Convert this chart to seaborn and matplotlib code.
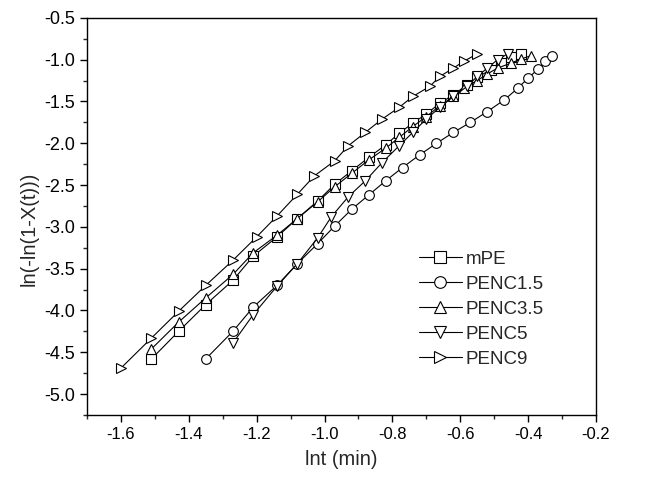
import numpy as np
import pandas as pd
import matplotlib
matplotlib.use("Agg")
import matplotlib.pyplot as plt
from matplotlib.ticker import MultipleLocator
import seaborn as sns

# Avrami plot data: x = ln t (min), y = ln(-ln(1-X(t)))
mpe_x = [-1.51, -1.43, -1.35, -1.27, -1.21, -1.14, -1.08, -1.02, -0.97, -0.92, -0.87, -0.82,
         -0.78, -0.74, -0.70, -0.66, -0.62, -0.58, -0.55, -0.51, -0.48, -0.45, -0.42]
mpe_y = [-4.58, -4.25, -3.93, -3.64, -3.35, -3.12, -2.90, -2.69, -2.49, -2.33, -2.17, -2.02,
         -1.88, -1.76, -1.65, -1.52, -1.42, -1.30, -1.21, -1.12, -1.04, -0.97, -0.93]

penc15_x = [-1.35, -1.27, -1.21, -1.14, -1.08, -1.02, -0.97, -0.92, -0.87, -0.82, -0.77,
            -0.72, -0.67, -0.62, -0.57, -0.52, -0.47, -0.43, -0.40, -0.37, -0.35, -0.33]
penc15_y = [-4.58, -4.25, -3.96, -3.70, -3.44, -3.20, -2.99, -2.79, -2.62, -2.45, -2.29,
            -2.14, -2.00, -1.87, -1.75, -1.62, -1.48, -1.34, -1.22, -1.11, -1.02, -0.95]

penc35_x = [-1.51, -1.43, -1.35, -1.27, -1.21, -1.14, -1.08, -1.02, -0.97, -0.92, -0.87, -0.82,
            -0.78, -0.74, -0.70, -0.66, -0.62, -0.59, -0.55, -0.52, -0.49, -0.45, -0.42, -0.39]
penc35_y = [-4.46, -4.14, -3.85, -3.57, -3.31, -3.10, -2.90, -2.70, -2.52, -2.36, -2.20, -2.06,
            -1.93, -1.80, -1.68, -1.55, -1.44, -1.34, -1.25, -1.17, -1.10, -1.04, -0.99, -0.95]

penc5_x = [-1.27, -1.21, -1.14, -1.08, -1.02, -0.98, -0.93, -0.88, -0.83, -0.78, -0.74,
           -0.70, -0.66, -0.62, -0.58, -0.55, -0.52, -0.49, -0.46]
penc5_y = [-4.39, -4.05, -3.71, -3.44, -3.13, -2.88, -2.64, -2.45, -2.23, -2.03, -1.87,
           -1.71, -1.57, -1.44, -1.32, -1.20, -1.10, -1.00, -0.93]

penc9_x = [-1.60, -1.51, -1.43, -1.35, -1.27, -1.20, -1.14, -1.08, -1.03, -0.97, -0.93, -0.88,
           -0.83, -0.78, -0.74, -0.69, -0.66, -0.62, -0.59, -0.55]
penc9_y = [-4.69, -4.33, -4.01, -3.70, -3.40, -3.12, -2.87, -2.61, -2.39, -2.21, -2.03, -1.87,
           -1.71, -1.57, -1.44, -1.32, -1.20, -1.10, -1.02, -0.93]

labels = ["mPE", "PENC1.5", "PENC3.5", "PENC5", "PENC9"]
series = [(mpe_x, mpe_y), (penc15_x, penc15_y), (penc35_x, penc35_y),
          (penc5_x, penc5_y), (penc9_x, penc9_y)]
markers = ["s", "o", "^", "v", ">"]

sns.set_style("ticks")
plt.rcParams["font.family"] = ["Liberation Sans", "DejaVu Sans"]
plt.rcParams["xtick.direction"] = "out"
plt.rcParams["ytick.direction"] = "out"

fig = plt.figure(figsize=(6.47, 4.78), dpi=100)
ax = fig.add_axes([0.1345, 0.132, 0.7866, 0.8305])

for (x, y), name, m in zip(series, labels, markers):
    df = pd.DataFrame({"lnt": x, "y": y})
    sns.lineplot(data=df, x="lnt", y="y", ax=ax, color="black", linewidth=0.8,
                 marker=m, markersize=7, markerfacecolor="white",
                 markeredgecolor="black", markeredgewidth=0.8, label=name, sort=False)

ax.set_xlim(-1.7, -0.2)
ax.set_ylim(-5.25, -0.5)
ax.xaxis.set_major_locator(MultipleLocator(0.2))
ax.xaxis.set_minor_locator(MultipleLocator(0.1))
ax.yaxis.set_major_locator(MultipleLocator(0.5))
ax.yaxis.set_minor_locator(MultipleLocator(0.25))
ax.xaxis.set_major_formatter(plt.FuncFormatter(lambda v, p: f"{v:.1f}"))
ax.yaxis.set_major_formatter(plt.FuncFormatter(lambda v, p: f"{v:.1f}"))
ax.tick_params(which="major", length=5, width=1, colors="black")
ax.tick_params(axis="x", labelsize=12)
ax.tick_params(axis="y", labelsize=13)
ax.tick_params(which="minor", length=3, width=1)

for s in ax.spines.values():
    s.set_visible(True)
    s.set_color("black")
    s.set_linewidth(1.0)

ax.set_xlabel("lnt (min)", fontsize=14.5, labelpad=6)
ax.set_ylabel("ln(-ln(1-X(t)))", fontsize=14.5)
ax.yaxis.set_label_coords(-0.095, 0.47)

ax.legend(loc="upper left", bbox_to_anchor=(0.637, 0.433), frameon=False, fontsize=13.5,
          handlelength=2.3, handletextpad=0.2, labelspacing=0.42, borderaxespad=0,
          markerscale=1.2)

fig.savefig("out.png", dpi=100)
